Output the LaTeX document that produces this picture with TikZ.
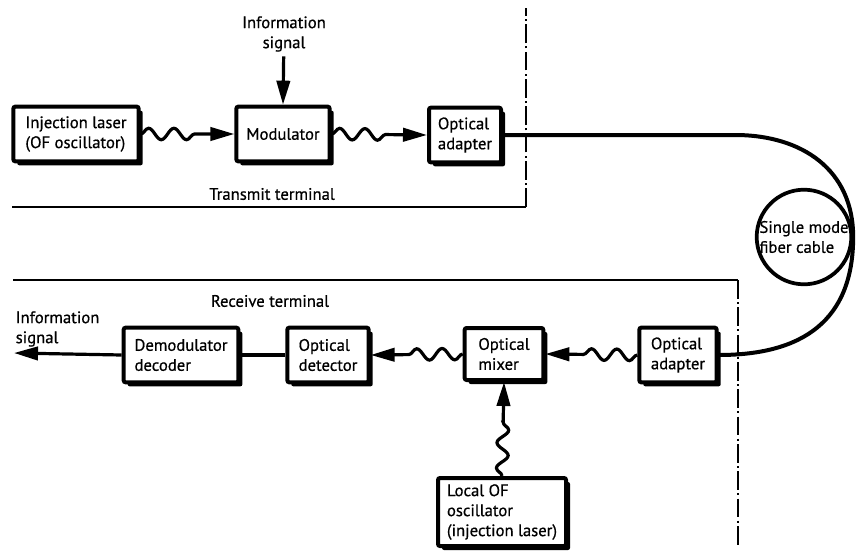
\documentclass[tikz,border=0pt]{standalone}
\usepackage{fontspec}
\setmainfont{PT Sans}[FakeBold=0.6]
\usetikzlibrary{arrows.meta,decorations.pathmorphing,shadows}

\begin{document}
\begin{tikzpicture}[x=0.75pt,y=-0.75pt,
    font=\fontsize{12.5}{15}\selectfont,
    block/.style={draw, line width=3pt, rounded corners=1.5pt, fill=white,
      align=left, minimum height=41pt, inner sep=2pt,
      drop shadow={shadow xshift=3pt, shadow yshift=-3pt, opacity=1, fill=black}},
    tip/.style={-{Triangle[length=18pt,width=10pt]}},
    wire/.style={line width=2.4pt},
    wavy/.style={wire, tip, decorate,
      decoration={snake, amplitude=4.3pt, segment length=19pt, post length=22pt}},
    fiber/.style={line width=3pt},
    border/.style={line width=1.3pt},
    borderdash/.style={line width=1pt, dash pattern=on 14pt off 2.5pt on 1.5pt off 2.5pt}]
    \useasboundingbox (0,0) rectangle (857,553);

    \node[block, minimum width=94pt] (laser) at (76,134) {Injection laser\\(OF oscillator)};
    \node[block, minimum width=70pt] (mod) at (283,134) {Modulator};
    \node[block, minimum width=54pt] (adaptT) at (465,135) {Optical\\adapter};
    \node[align=center] (infoin) at (284,34) {Information\\signal};
    \node (txlabel) at (272,194) {Transmit terminal};

    \node[draw, circle, line width=2.8pt, inner sep=0pt, minimum size=70pt,
      align=left] (cable) at (804,237) {Single mode\\fiber cable};

    \node (rxlabel) at (270,301) {Receive terminal};
    \node[align=left, anchor=west] (infoout) at (11,329) {Information\\signal};
    \coordinate (outend) at (14,353);
    \node[block, minimum width=86pt] (demod) at (181,355) {Demodulator\\decoder};
    \node[block, minimum width=61pt] (detect) at (328,355) {Optical\\detector};
    \node[block, minimum width=59pt, minimum height=39pt] (mixer) at (504,354) {Optical\\mixer};
    \node[block, minimum width=58pt] (adaptR) at (678,355) {Optical\\adapter};
    \node[block, minimum width=96pt, minimum height=51pt] (local) at (502,512)
      {Local OF\\oscillator\\(injection laser)};

    \draw[wire, tip] (infoin) -- (mod.north);
    \draw[wavy] (laser.east) -- (mod.west);
    \draw[wavy] (mod.east) -- (adaptT.west);

    \coordinate (bend) at (735,135);
    \draw[fiber] (adaptT.east) -- (bend)
      to[out=0, in=90, looseness=1.1] (cable.east)
      to[out=-90, in=0, looseness=1.2] (adaptR.east);

    \draw[wavy] (adaptR.west) -- (mixer.east);
    \draw[wavy] (mixer.west) -- (detect.east);
    \draw[wavy] (local.north) -- (mixer.south);
    \draw[wire] (detect.west) -- (demod.east);
    \draw[wire, tip] (demod.west) -- (outend);

    \draw[border] (12,207) -- (526,207);
    \draw[borderdash] (526,207) -- (526,8);
    \draw[border] (13,280) -- (738,280);
    \draw[borderdash] (738,280) -- (738,545);
\end{tikzpicture}
\end{document}
